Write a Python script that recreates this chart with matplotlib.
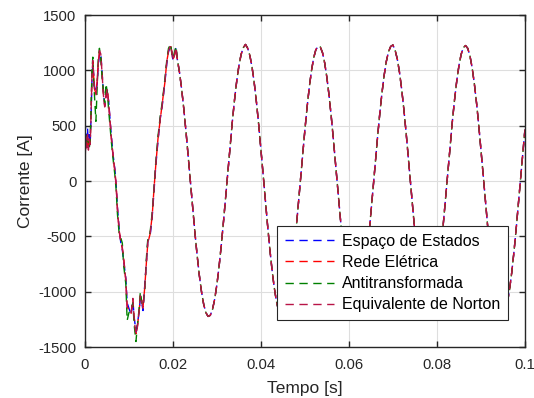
import numpy as np
import matplotlib
matplotlib.use("Agg")
import matplotlib.pyplot as plt

plt.rcParams['font.family'] = ['Liberation Sans', 'DejaVu Sans']
plt.rcParams['axes.unicode_minus'] = False

# transitorio inicial (ms)
t_trans_ms = [0.0, 0.2, 0.4, 0.6, 0.8, 1.0, 1.2, 1.4, 1.6, 1.8,
              2.0, 2.2, 2.5, 2.8, 3.0, 3.3, 3.6, 3.9, 4.2, 4.5,
              4.8, 5.1, 5.4, 5.7, 6.0, 6.4, 6.8, 7.1, 7.4, 7.8,
              8.2, 8.5, 8.8, 9.3, 9.6, 10.0, 10.5, 10.9, 11.2, 11.6,
              11.9, 12.3, 12.6, 13.0, 13.2, 13.6, 14.0, 14.3, 14.8, 15.3,
              15.7, 16.1, 16.6, 17.1, 17.6, 18.2, 18.6, 19.0, 19.5, 19.8,
              20.0, 20.4, 20.7]

espaco_trans = [550, 450, 330, 480, 300, 420, 340, 580, 920, 1060,
                960, 850, 800, 880, 1020, 1150, 1160, 990, 800, 690,
                760, 820, 720, 570, 410, 240, 110, -30, -240, -440,
                -570, -620, -720, -880, -1100, -1150, -1210, -1080, -1230, -1360,
                -1300, -1190, -1060, -1120, -1170, -940, -700, -540, -500, -320,
                -100, 130, 360, 560, 690, 900, 1060, 1170, 1220, 1160,
                1090, 1150, 1210]

rede_trans = [150, 380, 320, 400, 300, 360, 350, 620, 960, 1080,
              940, 830, 790, 910, 1040, 1170, 1140, 980, 790, 680,
              770, 830, 710, 560, 390, 230, 90, -40, -250, -460,
              -550, -610, -690, -900, -1130, -1170, -1200, -1070, -1240, -1380,
              -1320, -1190, -1040, -1090, -1140, -960, -720, -560, -480, -310,
              -70, 140, 380, 550, 710, 900, 1080, 1170, 1220, 1160,
              1100, 1140, 1200]

anti_trans = [300, 350, 420, 380, 330, 300, 380, 640, 1000, 1120,
              900, 760, 540, 850, 1080, 1200, 1110, 940, 820, 700,
              880, 800, 640, 500, 360, 200, 60, -80, -300, -480,
              -520, -560, -760, -930, -1260, -1190, -1160, -1100, -1300, -1450,
              -1320, -1160, -1000, -1120, -1130, -980, -680, -520, -470, -280,
              -60, 170, 400, 580, 720, 930, 1090, 1200, 1240, 1130,
              1110, 1170, 1220]

norton_trans = [100, 400, 300, 420, 280, 380, 330, 600, 950, 1090,
                950, 820, 780, 900, 1050, 1180, 1150, 975, 780, 670,
                780, 840, 700, 550, 400, 220, 100, -50, -260, -450,
                -560, -600, -700, -895, -1140, -1180, -1190, -1060, -1250, -1390,
                -1330, -1180, -1030, -1100, -1150, -955, -715, -550, -490, -300,
                -80, 150, 370, 560, 700, 910, 1070, 1180, 1230, 1150,
                1090, 1150, 1210]

# regime permanente, de 21 ms a 100 ms a cada 0.5 ms
regime = [1102, 982, 827, 643, 437, 214, -15, -245, -465, -669,
          -850, -1000, -1115, -1190, -1223, -1213, -1160, -1066, -934, -769,
          -577, -364, -138, 92, 320, 535, 733, 903, 1042, 1145,
          1206, 1235, 1200, 1133, 1026, 882, 708, 508, 290, 62,
          -169, -393, -604, -792, -954, -1081, -1170, -1217, -1222, -1183,
          -1102, -982, -827, -643, -437, -214, 15, 245, 465, 669,
          850, 1000, 1115, 1190, 1215, 1213, 1160, 1066, 934, 769,
          577, 364, 138, -92, -320, -535, -733, -903, -1042, -1145,
          -1206, -1225, -1200, -1133, -1026, -882, -708, -508, -290, -62,
          169, 393, 604, 792, 954, 1081, 1170, 1217, 1230, 1183,
          1102, 982, 827, 643, 437, 214, -15, -245, -465, -669,
          -850, -1000, -1115, -1190, -1223, -1213, -1160, -1066, -934, -769,
          -577, -364, -138, 92, 320, 535, 733, 903, 1042, 1145,
          1206, 1225, 1200, 1133, 1026, 882, 708, 508, 290, 62,
          -169, -393, -604, -792, -954, -1081, -1170, -1217, -1222, -1183,
          -1102, -982, -827, -643, -437, -214, 15, 245, 465]

t_regime = np.linspace(0.021, 0.1, len(regime))
t = np.concatenate([np.array(t_trans_ms) / 1000, t_regime])

series = [
    ("Espaço de Estados", espaco_trans, (0, 0, 1)),
    ("Rede Elétrica", rede_trans, (1, 0, 0)),
    ("Antitransformada", anti_trans, (0, 0.5, 0)),
    ("Equivalente de Norton", norton_trans, (0.72, 0.08, 0.28)),
]

fig = plt.figure(figsize=(5.34, 3.98), dpi=100)
ax = fig.add_axes([0.159, 0.128, 0.824, 0.834])

for nome, trans, cor in series:
    y = np.concatenate([trans, regime])
    ax.plot(t, y, color=cor, linewidth=1.0, linestyle=(0, (6, 4)), label=nome)

ax.set_xlim(0, 0.1)
ax.set_ylim(-1500, 1500)
ax.set_xticks([0, 0.02, 0.04, 0.06, 0.08, 0.1])
ax.set_xticklabels(["0", "0.02", "0.04", "0.06", "0.08", "0.1"])
ax.set_yticks([-1500, -1000, -500, 0, 500, 1000, 1500])

ax.grid(True, color=(0.87, 0.87, 0.87), linewidth=0.8)
ax.set_axisbelow(True)
for s in ax.spines.values():
    s.set_color((0.15, 0.15, 0.15))
    s.set_linewidth(1.0)
ax.tick_params(direction='in', length=4, width=1.0, top=True, right=True,
               colors=(0.15, 0.15, 0.15), labelsize=10.7)
ax.tick_params(axis='x', pad=8)
ax.tick_params(axis='y', pad=6)

ax.set_xlabel("Tempo [s]", fontsize=12.5, color=(0.15, 0.15, 0.15), labelpad=6)
ax.set_ylabel("Corrente [A]", fontsize=12.5, color=(0.15, 0.15, 0.15))

leg = ax.legend(loc='lower right', bbox_to_anchor=(0.961, 0.081), borderaxespad=0,
                fontsize=11.5, fancybox=False, framealpha=1, handlelength=3.1,
                labelspacing=0.38, borderpad=0.5, handletextpad=0.45)
leg.get_frame().set_edgecolor((0.15, 0.15, 0.15))
leg.get_frame().set_linewidth(0.8)

fig.savefig("out.png", dpi=100)
